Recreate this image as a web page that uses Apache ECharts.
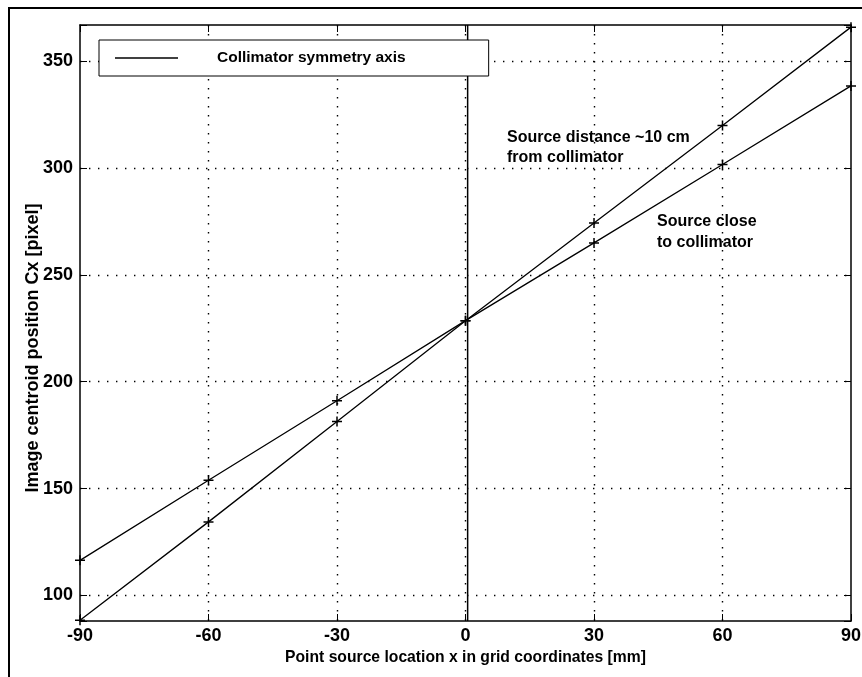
<!DOCTYPE html>
<html>
<head>
<meta charset="utf-8">
<script src="https://cdn.jsdelivr.net/npm/echarts@6/dist/echarts.min.js"></script>
<style>
html, body { margin: 0; padding: 0; background: #fff; }
#main { width: 862px; height: 677px; }
</style>
</head>
<body>
<div id="main"></div>
<script>
var myChart = echarts.init(document.getElementById('main'));

// point source location x [mm]
var xPos = [-90, -60, -30, 0, 30, 60, 90];
// source ~10 cm from collimator
var farSource = [88.4, 134.4, 181.4, 228.6, 274.3, 320, 366];
// source close to collimator
var closeSource = [116.4, 153.9, 191.1, 228.6, 265, 301.7, 338.5];
// collimator symmetry axis location
var axisX = 0.5;
var yMin = 88, yMax = 367;
var xTicks = [-90, -60, -30, 0, 30, 60, 90];

function pairs(ys) {
	var out = [];
	for (var i = 0; i < xPos.length; i++) {
		out.push([xPos[i], ys[i]]);
	}
	return out;
}

var fontFam = '"Liberation Sans", Arial, sans-serif';
var plus = 'path://M0,5L10,5M5,0L5,10';
var gridDots = {
	show: true, showMinLine: false, showMaxLine: false,
	lineStyle: { color: '#000', width: 1.4, type: [1.4, 7.6] }
};

var option = {
	backgroundColor: '#fff',
	animation: false,
	textStyle: { fontFamily: fontFam },
	grid: {
		left: 80, right: 11, top: 25, bottom: 56,
		outerBoundsMode: 'none'
	},
	legend: {
		left: 99, top: 40,
		padding: [9, 83, 9, 16],
		backgroundColor: '#fff',
		borderColor: '#000',
		borderWidth: 1,
		borderRadius: 0,
		itemWidth: 63,
		itemHeight: 1.3,
		data: [{ name: 'Collimator symmetry axis', icon: 'rect' }],
		textStyle: {
			color: '#000', fontSize: 15.5, fontWeight: 'bold', lineHeight: 18,
			fontFamily: fontFam, padding: [0, 0, 0, 34]
		}
	},
	xAxis: [{
		type: 'value',
		min: -90, max: 90, interval: 30,
		name: 'Point source location x in grid coordinates [mm]',
		nameLocation: 'middle',
		nameGap: 28,
		nameTextStyle: { color: '#000', fontSize: 15.7, fontWeight: 'bold', fontFamily: fontFam },
		axisLine: { show: true, onZero: false, lineStyle: { color: '#000', width: 1.5 } },
		axisTick: { show: true, inside: true, length: 7, lineStyle: { color: '#000' } },
		axisLabel: {
			color: '#000', fontSize: 18, fontWeight: 'bold', fontFamily: fontFam, margin: 6,
			formatter: function (v) { return xTicks.indexOf(v) >= 0 ? String(v) : ''; }
		},
		splitLine: gridDots
	}, {
		type: 'value', position: 'top',
		min: -90, max: 90, interval: 30,
		axisLine: { show: true, onZero: false, lineStyle: { color: '#000', width: 1.5 } },
		axisTick: { show: true, inside: true, length: 7, lineStyle: { color: '#000' } },
		axisLabel: { show: false },
		splitLine: { show: false }
	}],
	yAxis: [{
		type: 'value',
		min: yMin, max: yMax,
		name: 'Image centroid position Cx [pixel]',
		nameLocation: 'middle',
		nameGap: 38,
		nameMoveOverlap: false,
		nameTextStyle: {
			color: '#000', fontSize: 18, fontWeight: 'bold', fontFamily: fontFam,
			padding: [0, 50, 0, 0]
		},
		axisLine: { show: true, onZero: false, lineStyle: { color: '#000', width: 1.5 } },
		axisTick: { show: true, inside: true, length: 7, lineStyle: { color: '#000' } },
		axisLabel: {
			color: '#000', fontSize: 18, fontWeight: 'bold', fontFamily: fontFam, margin: 7,
			formatter: function (v) { return v % 50 === 0 ? String(v) : ''; }
		},
		splitLine: gridDots
	}, {
		type: 'value', position: 'right',
		min: yMin, max: yMax,
		axisLine: { show: true, onZero: false, lineStyle: { color: '#000', width: 1.5 } },
		axisTick: { show: true, inside: true, length: 7, lineStyle: { color: '#000' } },
		axisLabel: { show: false },
		splitLine: { show: false }
	}],
	series: [
		{
			name: 'Collimator symmetry axis',
			type: 'line',
			symbol: 'none',
			lineStyle: { color: '#000', width: 1.5 },
			itemStyle: { color: '#000' },
			data: [[axisX, yMin], [axisX, yMax]]
		},
		{
			name: 'Source distance ~10 cm',
			type: 'line',
			symbol: plus,
			symbolSize: 10,
			lineStyle: { color: '#000', width: 1.3 },
			itemStyle: { color: 'none', borderColor: '#000', borderWidth: 1.5 },
			data: pairs(farSource)
		},
		{
			name: 'Source close',
			type: 'line',
			symbol: plus,
			symbolSize: 10,
			lineStyle: { color: '#000', width: 1.3 },
			itemStyle: { color: 'none', borderColor: '#000', borderWidth: 1.5 },
			data: pairs(closeSource)
		}
	],
	graphic: [
		{
			type: 'rect', silent: true,
			shape: { x: 9, y: 8, width: 900, height: 700 },
			style: { fill: 'none', stroke: '#000', lineWidth: 2 }
		},
		{
			type: 'text', left: 507, top: 128,
			style: {
				text: 'Source distance ~10 cm\nfrom collimator',
				font: 'bold 16px ' + fontFam, lineHeight: 20, fill: '#000'
			}
		},
		{
			type: 'text', left: 657, top: 211,
			style: {
				text: 'Source close\nto collimator',
				font: 'bold 16px ' + fontFam, lineHeight: 21, fill: '#000'
			}
		}
	]
};

myChart.setOption(option);
</script>
</body>
</html>
